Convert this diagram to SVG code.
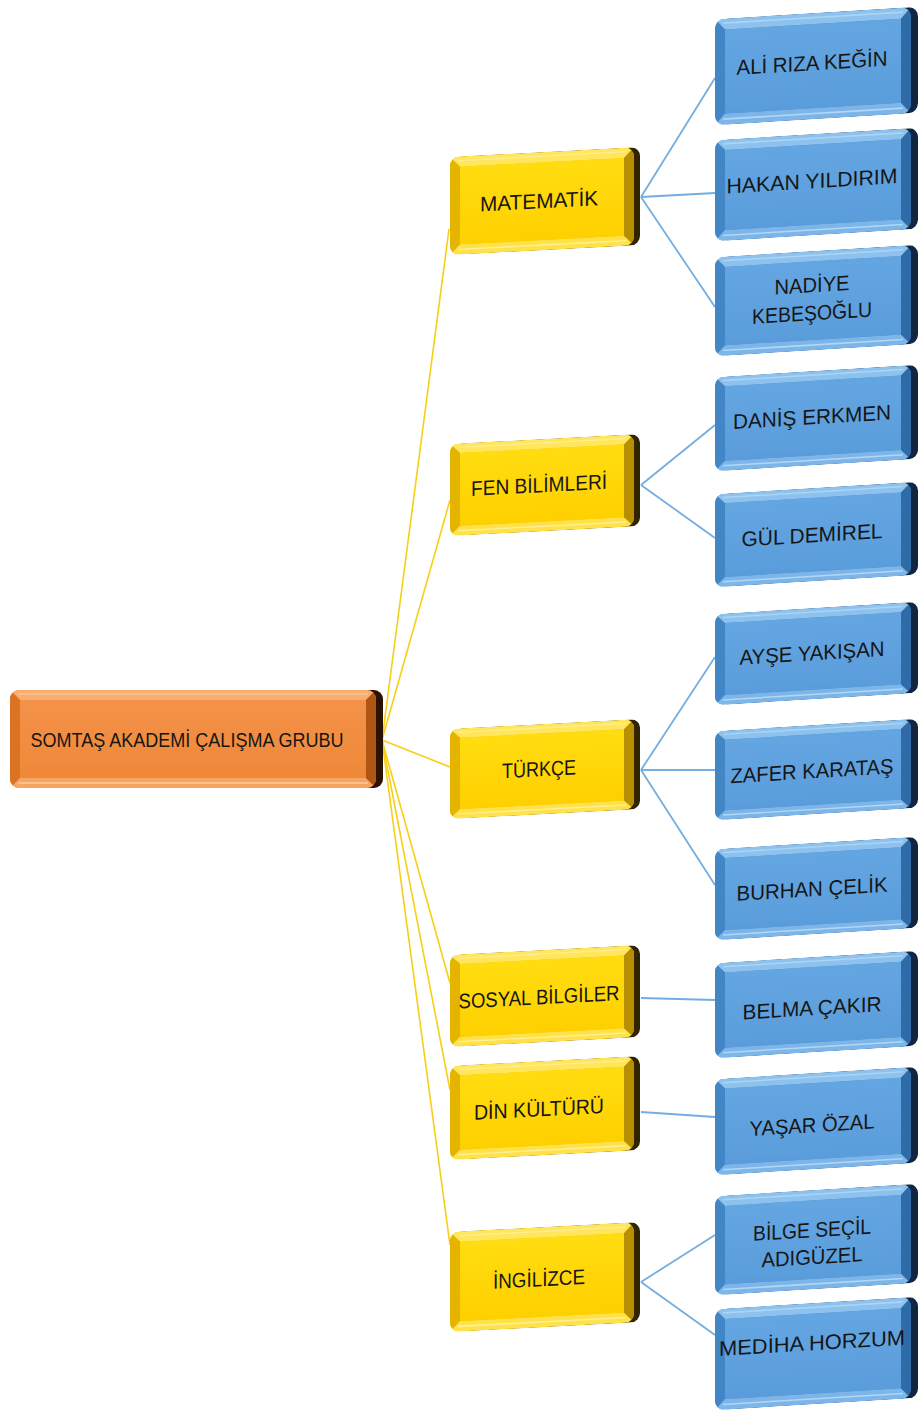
<svg xmlns="http://www.w3.org/2000/svg" xmlns:xlink="http://www.w3.org/1999/xlink" width="921" height="1415" viewBox="0 0 921 1415">
<style>
.t{font-family:"Liberation Sans",Arial,sans-serif;font-size:21px;fill:#161616;text-anchor:middle}
.tr{font-family:"Liberation Sans",Arial,sans-serif;font-size:20px;fill:#161616;text-anchor:middle}
.cy{stroke:#F7CF16;stroke-width:1.6;fill:none}
.cb{stroke:#74AEE0;stroke-width:1.8;fill:none}
</style>
<defs>
<linearGradient id="gYs" x1="0" y1="0" x2="1" y2="0"><stop offset="0" stop-color="#9c7a00"/><stop offset="1" stop-color="#2e2300"/></linearGradient>
<linearGradient id="gBs" x1="0" y1="0" x2="1" y2="0"><stop offset="0" stop-color="#2d6398"/><stop offset="1" stop-color="#0f2540"/></linearGradient>
<linearGradient id="gOs" x1="0" y1="0" x2="1" y2="0"><stop offset="0" stop-color="#8a4512"/><stop offset="1" stop-color="#2a1204"/></linearGradient>
<linearGradient id="gYf" x1="0" y1="0" x2="0" y2="1"><stop offset="0" stop-color="#FFDD10"/><stop offset="1" stop-color="#FFD000"/></linearGradient>
<linearGradient id="gBf" x1="0" y1="0" x2="0" y2="1"><stop offset="0" stop-color="#64A6E2"/><stop offset="1" stop-color="#5A9DDB"/></linearGradient>
<linearGradient id="gOf" x1="0" y1="0" x2="0" y2="1"><stop offset="0" stop-color="#F4924A"/><stop offset="1" stop-color="#EF8838"/></linearGradient>
<clipPath id="cY"><rect x="0" y="0" width="184" height="96" rx="9"/></clipPath>
<clipPath id="cB"><rect x="0" y="0" width="196" height="96" rx="9"/></clipPath>
<clipPath id="cO"><rect x="0" y="0" width="366" height="98" rx="9"/></clipPath>
<symbol id="ybox" viewBox="0 0 190 96" preserveAspectRatio="none">
<rect x="4" y="0" width="186" height="96" rx="9" fill="url(#gYs)"/>
<g clip-path="url(#cY)">
<rect x="0" y="0" width="184" height="96" fill="#F2C400"/>
<polygon points="0,0 184,0 174,10 10,10" fill="#FFE65C"/>
<polygon points="0,0 10,10 10,86 0,96" fill="#E4B400"/>
<polygon points="0,96 184,96 174,86 10,86" fill="#FFE24A"/>
<polygon points="184,0 184,96 174,86 174,10" fill="#B88F00"/>
<rect x="10" y="10" width="164" height="76" fill="url(#gYf)"/>
<line x1="8" y1="91" x2="176" y2="91" stroke="#FFF3A8" stroke-width="1.5" opacity="0.8"/>
<line x1="8" y1="4" x2="176" y2="4" stroke="#FFF3A8" stroke-width="1.5" opacity="0.6"/>
</g>
</symbol>
<symbol id="bbox" viewBox="0 0 203 96" preserveAspectRatio="none">
<rect x="4" y="0" width="199" height="96" rx="9" fill="url(#gBs)"/>
<g clip-path="url(#cB)">
<rect x="0" y="0" width="196" height="96" fill="#4F90CF"/>
<polygon points="0,0 196,0 186,10 10,10" fill="#8EC2EE"/>
<polygon points="0,0 10,10 10,86 0,96" fill="#4286C6"/>
<polygon points="0,96 196,96 186,86 10,86" fill="#7DB6E8"/>
<polygon points="196,0 196,96 186,86 186,10" fill="#2F6BA6"/>
<rect x="10" y="10" width="176" height="76" fill="url(#gBf)"/>
<line x1="8" y1="91" x2="188" y2="91" stroke="#BFE0FA" stroke-width="1.5" opacity="0.8"/>
<line x1="8" y1="4" x2="188" y2="4" stroke="#BFE0FA" stroke-width="1.5" opacity="0.6"/>
</g>
</symbol>
<symbol id="obox" viewBox="0 0 373 98" preserveAspectRatio="none">
<rect x="4" y="0" width="369" height="98" rx="9" fill="url(#gOs)"/>
<g clip-path="url(#cO)">
<rect x="0" y="0" width="366" height="98" fill="#E57A28"/>
<polygon points="0,0 366,0 356,10 10,10" fill="#F8AE70"/>
<polygon points="0,0 10,10 10,88 0,98" fill="#DB7322"/>
<polygon points="0,98 366,98 356,88 10,88" fill="#F6A560"/>
<polygon points="366,0 366,98 356,88 356,10" fill="#B05614"/>
<rect x="10" y="10" width="346" height="78" fill="url(#gOf)"/>
<line x1="8" y1="93" x2="358" y2="93" stroke="#FFD3A8" stroke-width="1.5" opacity="0.8"/>
<line x1="8" y1="4" x2="358" y2="4" stroke="#FFD3A8" stroke-width="1.5" opacity="0.6"/>
</g>
</symbol>
</defs>
<rect width="921" height="1415" fill="#FFFFFF"/>
<g id="connectors">
<path class="cy" d="M382,740 L449,229"/>
<path class="cy" d="M382,740 L450,500"/>
<path class="cy" d="M382,740 L450,767"/>
<path class="cy" d="M382,740 L450,983"/>
<path class="cy" d="M382,740 L450,1090"/>
<path class="cy" d="M382,740 L450,1245"/>
<path class="cb" d="M641,197 L715,78"/>
<path class="cb" d="M641,197 L715,193"/>
<path class="cb" d="M641,197 L715,307"/>
<path class="cb" d="M641,485 L715,425"/>
<path class="cb" d="M641,485 L715,538"/>
<path class="cb" d="M641,770 L715,657"/>
<path class="cb" d="M641,770 L715,770"/>
<path class="cb" d="M641,770 L715,885"/>
<path class="cb" d="M641,998 L715,1000"/>
<path class="cb" d="M641,1112 L715,1117"/>
<path class="cb" d="M641,1282 L715,1235"/>
<path class="cb" d="M641,1282 L715,1335"/>
</g>
<g id="n-root" transform="translate(196,739)">
<use href="#obox" x="-186" y="-49" width="373" height="98"/>
<text class="tr" x="-9" y="8" textLength="313" lengthAdjust="spacingAndGlyphs">SOMTAŞ AKADEMİ ÇALIŞMA GRUBU</text>
</g>
<g id="n-matematik" transform="translate(545,201) skewY(-3)">
<use href="#ybox" x="-95" y="-49" width="190" height="98"/>
<text class="t" x="-6" y="7" textLength="118" lengthAdjust="spacingAndGlyphs">MATEMATİK</text>
</g>
<g id="n-fen" transform="translate(545,485) skewY(-3)">
<use href="#ybox" x="-95" y="-46" width="190" height="92"/>
<text class="t" x="-6" y="7" textLength="136" lengthAdjust="spacingAndGlyphs">FEN BİLİMLERİ</text>
</g>
<g id="n-turkce" transform="translate(545,769) skewY(-3)">
<use href="#ybox" x="-95" y="-45" width="190" height="90"/>
<text class="t" x="-6" y="7" textLength="74" lengthAdjust="spacingAndGlyphs">TÜRKÇE</text>
</g>
<g id="n-sosyal" transform="translate(545,996) skewY(-3)">
<use href="#ybox" x="-95" y="-46" width="190" height="92"/>
<text class="t" x="-6" y="8" textLength="161" lengthAdjust="spacingAndGlyphs">SOSYAL BİLGİLER</text>
</g>
<g id="n-din" transform="translate(545,1108) skewY(-3)">
<use href="#ybox" x="-95" y="-47" width="190" height="94"/>
<text class="t" x="-6" y="8" textLength="130" lengthAdjust="spacingAndGlyphs">DİN KÜLTÜRÜ</text>
</g>
<g id="n-ingilizce" transform="translate(545,1277) skewY(-3)">
<use href="#ybox" x="-95" y="-50" width="190" height="100"/>
<text class="t" x="-6" y="9" textLength="92" lengthAdjust="spacingAndGlyphs">İNGİLİZCE</text>
</g>
<g id="n-ali" transform="translate(816,66) skewY(-3.5)">
<use href="#bbox" x="-101" y="-53" width="203" height="106"/>
<text class="t" x="-4" y="4" textLength="151" lengthAdjust="spacingAndGlyphs">ALİ RIZA KEĞİN</text>
</g>
<g id="n-hakan" transform="translate(816,184) skewY(-3.5)">
<use href="#bbox" x="-101" y="-50" width="203" height="101"/>
<text class="t" x="-4" y="4" textLength="171" lengthAdjust="spacingAndGlyphs">HAKAN YILDIRIM</text>
</g>
<g id="n-nadiye" transform="translate(816,300) skewY(-3.5)">
<use href="#bbox" x="-101" y="-49" width="203" height="99"/>
<text class="t" x="-4" y="-8" textLength="75" lengthAdjust="spacingAndGlyphs">NADİYE</text>
<text class="t" x="-4" y="20" textLength="120" lengthAdjust="spacingAndGlyphs">KEBEŞOĞLU</text>
</g>
<g id="n-danis" transform="translate(816,418) skewY(-3.5)">
<use href="#bbox" x="-101" y="-47" width="203" height="94"/>
<text class="t" x="-4" y="6" textLength="158" lengthAdjust="spacingAndGlyphs">DANİŞ ERKMEN</text>
</g>
<g id="n-gul" transform="translate(816,535) skewY(-3.5)">
<use href="#bbox" x="-101" y="-47" width="203" height="93"/>
<text class="t" x="-4" y="7" textLength="141" lengthAdjust="spacingAndGlyphs">GÜL DEMİREL</text>
</g>
<g id="n-ayse" transform="translate(816,654) skewY(-3.5)">
<use href="#bbox" x="-101" y="-46" width="203" height="91"/>
<text class="t" x="-4" y="6" textLength="145" lengthAdjust="spacingAndGlyphs">AYŞE YAKIŞAN</text>
</g>
<g id="n-zafer" transform="translate(816,770) skewY(-3.5)">
<use href="#bbox" x="-101" y="-45" width="203" height="89"/>
<text class="t" x="-4" y="8" textLength="163" lengthAdjust="spacingAndGlyphs">ZAFER KARATAŞ</text>
</g>
<g id="n-burhan" transform="translate(816,889) skewY(-3.5)">
<use href="#bbox" x="-101" y="-46" width="203" height="91"/>
<text class="t" x="-4" y="7" textLength="151" lengthAdjust="spacingAndGlyphs">BURHAN ÇELİK</text>
</g>
<g id="n-belma" transform="translate(816,1005) skewY(-3.5)">
<use href="#bbox" x="-101" y="-48" width="203" height="95"/>
<text class="t" x="-4" y="10" textLength="139" lengthAdjust="spacingAndGlyphs">BELMA ÇAKIR</text>
</g>
<g id="n-yasar" transform="translate(816,1121) skewY(-3.5)">
<use href="#bbox" x="-101" y="-48" width="203" height="96"/>
<text class="t" x="-4" y="11" textLength="125" lengthAdjust="spacingAndGlyphs">YAŞAR ÖZAL</text>
</g>
<g id="n-bilge" transform="translate(816,1240) skewY(-3.5)">
<use href="#bbox" x="-101" y="-50" width="203" height="99"/>
<text class="t" x="-4" y="-3" textLength="118" lengthAdjust="spacingAndGlyphs">BİLGE SEÇİL</text>
<text class="t" x="-4" y="24" textLength="101" lengthAdjust="spacingAndGlyphs">ADIGÜZEL</text>
</g>
<g id="n-mediha" transform="translate(816,1354) skewY(-3.5)">
<use href="#bbox" x="-101" y="-51" width="203" height="101"/>
<text class="t" x="-4" y="-4" textLength="186" lengthAdjust="spacingAndGlyphs">MEDİHA HORZUM</text>
</g>
</svg>
